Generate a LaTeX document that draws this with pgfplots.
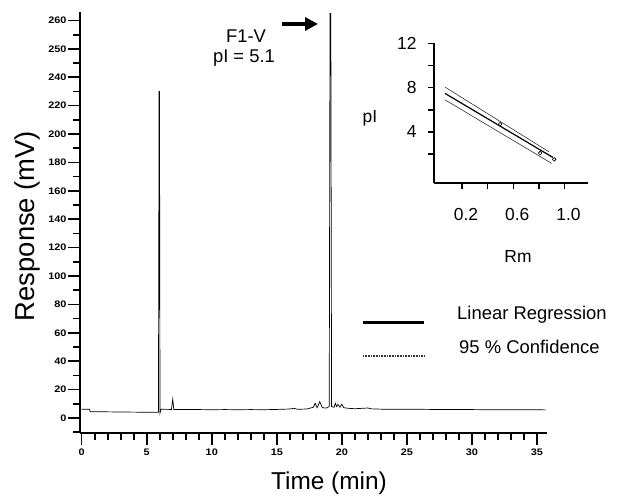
\documentclass[border=0pt]{standalone}
\usepackage{fontspec}
\setmainfont{Liberation Sans}
\newfontfamily\tickfamily[FakeStretch=1.15]{Liberation Sans}
\usepackage{pgfplots}
\pgfplotsset{compat=1.18}
\usetikzlibrary{arrows.meta}

\begin{document}
\begin{tikzpicture}
\path[use as bounding box] (0bp,0bp) rectangle (623bp,500bp);
% ---------------- main chromatogram ----------------
\begin{axis}[
  at={(80bp,67bp)}, anchor=south west, scale only axis,
  width=467bp, height=421bp,
  xmin=-0.13, xmax=35.77, ymin=-10.6, ymax=286,
  axis x line*=bottom, axis y line*=left,
  axis line style={line width=2bp},
  tick align=outside,
  xtick={0,5,...,35}, minor x tick num=4,
  xticklabels={0,5,10,15,20,25,30,35},
  ytick={0,20,...,280},
  yticklabels={0,20,40,60,80,100,120,140,160,180,200,220,240,250,260},
  minor ytick={-10,10,30,...,270},
  major tick length=12bp, minor tick length=7bp,
  major tick style={line width=1.6bp,black},
  minor tick style={line width=1.6bp,black},
  ticklabel style={font=\tickfamily\bfseries\fontsize{9.5}{10}\selectfont},
  yticklabel style={xshift=2bp},
  /pgf/number format/assume math mode=true,
]
\addplot[black, line width=0.7bp] coordinates {
(0,6.1) (0.6,6.1) (0.65,4.4) (2,4.3) (4,4.1) (5.9,4.0) (5.95,230) (5.98,230) (6.02,3.5)
(6.1,6.1) (6.9,6.0) (7.0,13.2) (7.08,6.0) (8,5.9) (9,5.9) (10,5.8) (11,5.9) (12,5.8)
(13,5.9) (14,5.8) (15,6.0) (16,6.3) (16.3,6.8) (16.6,6.1) (17.3,6.3) (17.8,7.5)
(17.95,10.3) (18.1,7.2) (18.3,11.5) (18.5,7.2) (18.8,7.0) (19.03,8) (19.09,285)
(19.15,285) (19.21,8) (19.4,7.5) (19.5,10.3) (19.6,8) (19.7,9.5) (19.85,7.6)
(20.0,9.7) (20.15,7.2) (20.5,6.8) (21,6.5) (22,7.0) (22.3,6.4) (23,6.2) (25,6.2)
(27,6.0) (29,6.0) (31,5.8) (33,5.8) (35.7,5.7)
};
\end{axis}
% ---------------- inset ----------------
\begin{axis}[
  at={(434bp,316.7bp)}, anchor=south west, scale only axis,
  width=154bp, height=140bp,
  xmin=-0.019, xmax=1.184, ymin=-0.63, ymax=12,
  axis x line*=bottom, axis y line*=left,
  axis line style={line width=1.6bp},
  tick align=outside,
  xtick={0.2,0.4,0.6,0.8,1.0}, xticklabels={0.2,,0.6,,1.0},
  ytick={2,4,...,12}, yticklabels={,4,,8,,12},
  major tick length=6bp,
  major tick style={line width=1.4bp,black},
  ticklabel style={font=\fontsize{17.5}{18}\selectfont},
  xticklabel style={yshift=-16bp, xshift=4bp},
  yticklabel style={xshift=-8bp},
]
\addplot[black!80, line width=0.6bp] coordinates {(0.067,8.05) (0.88,2.2)};
\addplot[black!80, line width=0.6bp] coordinates {(0.067,6.9) (0.90,1.17)};
\addplot[black, line width=1.2bp] coordinates {(0.067,7.48) (0.91,1.7)};
\addplot[only marks, mark=o, mark size=1.8bp, black, line width=0.6bp] coordinates {(0.497,4.7) (0.81,2.1) (0.92,1.53)};
\end{axis}
% ---------------- text ----------------
\node[font=\fontsize{27.5}{29}\selectfont, rotate=90] at (27bp,274bp) {Response (mV)};
\node[font=\fontsize{24.5}{26}\selectfont] at (329bp,17bp) {Time (min)};
\node[font=\fontsize{18.5}{20}\selectfont] at (246bp,464bp) {F1-V};
\node[font=\fontsize{18.5}{20}\selectfont] at (244bp,442bp) {pI = 5.1};
\draw[line width=4bp, -{Triangle[length=13bp,width=13bp]}] (282bp,476bp) -- (318bp,476bp);
\node[font=\fontsize{17.5}{20}\selectfont] at (370bp,382bp) {pI};
\node[font=\fontsize{17.5}{20}\selectfont] at (518bp,243bp) {Rm};
% legend
\draw[line width=3bp] (363bp,177bp) -- (424bp,177bp);
\draw[line width=1.2bp, dash pattern=on 1bp off 0.6bp, black!80] (363bp,144bp) -- (424bp,144bp);
\node[anchor=west, inner sep=0pt, font=\fontsize{18.5}{20}\selectfont] at (457bp,185bp) {Linear Regression};
\node[anchor=west, inner sep=0pt, font=\fontsize{18.5}{20}\selectfont] at (459bp,153bp) {95 \% Confidence};
\end{tikzpicture}
\end{document}
